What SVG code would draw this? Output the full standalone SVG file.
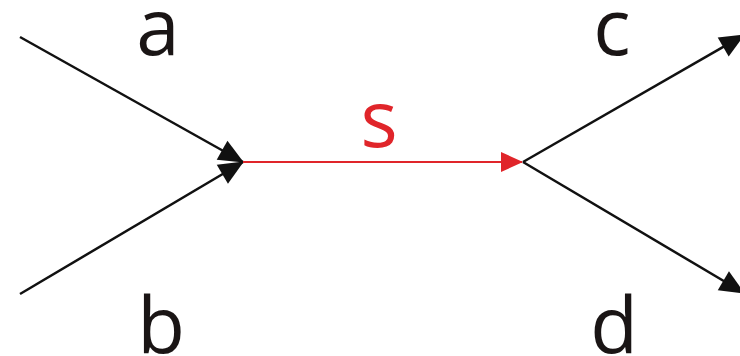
<svg xmlns="http://www.w3.org/2000/svg" width="740" height="356" viewBox="0 0 740 356">
  <style>
    .lbl { font-family: "Open Sans", "DejaVu Sans", sans-serif; font-size: 78px; fill: #1a1515; text-anchor: middle; }
    .red { fill: #e0252a; }
    .edge { stroke: #111; stroke-width: 2.5; fill: none; }
    .edge-red { stroke: #e0252a; stroke-width: 2; fill: none; }
  </style>
  <defs>
    <!-- filled triangular heads; tip sits on the line end -->
    <marker id="arrowBlack" viewBox="-30 -15 32 30" refX="0" refY="0" markerWidth="32" markerHeight="30" markerUnits="userSpaceOnUse" orient="auto" overflow="visible">
      <path d="M-24,-11 L1,0 L-24,11 Z" fill="#111"/>
    </marker>
    <marker id="arrowRed" viewBox="-30 -15 32 30" refX="0" refY="0" markerWidth="32" markerHeight="30" markerUnits="userSpaceOnUse" orient="auto" overflow="visible">
      <path d="M-21,-10 L1,0 L-21,10 Z" fill="#e0252a"/>
    </marker>
  </defs>

  <g id="connectors">
    <line class="edge" x1="20" y1="37" x2="243" y2="162" marker-end="url(#arrowBlack)"/>
    <line class="edge" x1="20" y1="294" x2="243" y2="162" marker-end="url(#arrowBlack)"/>
    <line class="edge-red" x1="243" y1="162" x2="522" y2="162" marker-end="url(#arrowRed)"/>
    <line class="edge" x1="523" y1="162" x2="744" y2="35" marker-end="url(#arrowBlack)"/>
    <line class="edge" x1="523" y1="162" x2="744" y2="293" marker-end="url(#arrowBlack)"/>
  </g>

  <g id="label-a"><text class="lbl" x="158" y="55">a</text></g>
  <g id="label-b"><text class="lbl" x="161" y="353">b</text></g>
  <g id="label-s"><text class="lbl red" x="379" y="147">s</text></g>
  <g id="label-c"><text class="lbl" x="612" y="55">c</text></g>
  <g id="label-d"><text class="lbl" x="614" y="353">d</text></g>
</svg>
